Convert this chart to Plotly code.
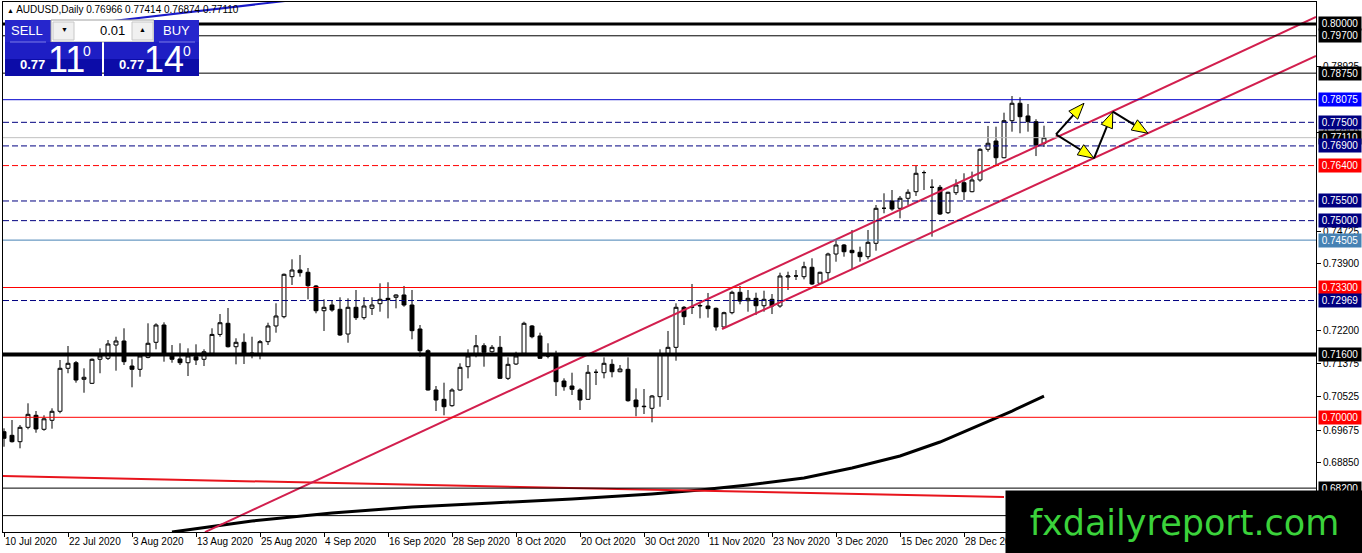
import math
import plotly.graph_objects as go

# ---------------- data ----------------
symbol = "AUDUSD,Daily"

opens = [0.69634, 0.69542, 0.69380, 0.69746, 0.70051, 0.69695, 0.69924, 0.70153, 0.71246, 0.71388,
         0.70966, 0.70864, 0.71475, 0.71500, 0.71838, 0.71940, 0.71304, 0.71220, 0.71525, 0.71907,
         0.72347, 0.71559, 0.71483, 0.71388, 0.71541, 0.71475, 0.71626, 0.72107, 0.72390, 0.71795,
         0.71907, 0.71584, 0.71584, 0.71923, 0.72322, 0.72558, 0.73576, 0.73745, 0.73687, 0.73339,
         0.72710, 0.72855, 0.72746, 0.72118, 0.72797, 0.72533, 0.72771, 0.72889, 0.73025, 0.73051,
         0.73110, 0.72855, 0.72245, 0.71693, 0.70694, 0.70457, 0.70295, 0.70694, 0.71287, 0.71609,
         0.71820, 0.71667, 0.71779, 0.70991, 0.71355, 0.71626, 0.72322, 0.72068, 0.71584, 0.71559,
         0.70923, 0.70796, 0.70694, 0.70457, 0.71144, 0.71134, 0.71347, 0.71159, 0.71220, 0.70440,
         0.70269, 0.70229, 0.70525, 0.71609, 0.71779, 0.72797, 0.72797, 0.72830, 0.72830, 0.72771,
         0.72297, 0.72660, 0.73178, 0.72965, 0.73025, 0.72837, 0.73000, 0.72830, 0.73567, 0.73593,
         0.73575, 0.73814, 0.73407, 0.73677, 0.74152, 0.74381, 0.74246, 0.74196, 0.74084, 0.74424,
         0.75314, 0.75500, 0.75314, 0.75568, 0.75736, 0.76222, 0.75848, 0.75847, 0.75202, 0.75711,
         0.75965, 0.75736, 0.76034, 0.76814, 0.77025, 0.76600, 0.77541, 0.77984, 0.77661, 0.77516,
         0.76966]

highs = [0.69720, 0.69931, 0.69804, 0.70356, 0.70160, 0.70051, 0.70229, 0.71457, 0.71813, 0.71432,
         0.71246, 0.71495, 0.71754, 0.71965, 0.72049, 0.72263, 0.71475, 0.71626, 0.72390, 0.72390,
         0.72415, 0.71838, 0.71882, 0.71754, 0.71856, 0.71729, 0.72263, 0.72626, 0.72779, 0.72009,
         0.72133, 0.72049, 0.71965, 0.72405, 0.72899, 0.73656, 0.74017, 0.74127, 0.73796, 0.73364,
         0.73000, 0.72965, 0.73051, 0.73025, 0.73237, 0.73051, 0.73051, 0.73407, 0.73433, 0.73127,
         0.73339, 0.73237, 0.72347, 0.71729, 0.70796, 0.70880, 0.70737, 0.71373, 0.71729, 0.72093,
         0.71882, 0.71838, 0.72068, 0.71525, 0.71667, 0.72431, 0.72347, 0.72151, 0.71882, 0.71693,
         0.70991, 0.71134, 0.70737, 0.71330, 0.71220, 0.71525, 0.71475, 0.71330, 0.71525, 0.70737,
         0.70720, 0.70567, 0.71729, 0.72195, 0.72899, 0.72830, 0.73390, 0.72940, 0.73161, 0.72792,
         0.72685, 0.73219, 0.73339, 0.73237, 0.73168, 0.73219, 0.73135, 0.73677, 0.73702, 0.73745,
         0.73956, 0.74043, 0.73702, 0.74185, 0.74508, 0.74406, 0.74762, 0.74338, 0.74762, 0.75398,
         0.75695, 0.75779, 0.75627, 0.75797, 0.76389, 0.76273, 0.76051, 0.75906, 0.75736, 0.76051,
         0.76204, 0.76247, 0.76839, 0.77407, 0.77389, 0.77745, 0.78169, 0.78136, 0.77966, 0.77579,
         0.77414]

lows = [0.69252, 0.69359, 0.69212, 0.69695, 0.69608, 0.69659, 0.69710, 0.70102, 0.71120, 0.70880,
        0.70625, 0.70846, 0.71120, 0.71457, 0.71185, 0.71330, 0.70763, 0.71032, 0.71500, 0.71729,
        0.71414, 0.71388, 0.71330, 0.71050, 0.71330, 0.71304, 0.71584, 0.72049, 0.71774, 0.71347,
        0.71355, 0.71500, 0.71475, 0.71838, 0.72151, 0.72517, 0.73364, 0.73576, 0.73000, 0.72644,
        0.72195, 0.72685, 0.72068, 0.71896, 0.72474, 0.72482, 0.72601, 0.72685, 0.72516, 0.72771,
        0.72812, 0.71984, 0.71541, 0.70681, 0.70160, 0.70051, 0.70269, 0.70676, 0.70991, 0.71525,
        0.71287, 0.71643, 0.70973, 0.70948, 0.71330, 0.71609, 0.72009, 0.71483, 0.71500, 0.70541,
        0.70676, 0.70567, 0.70186, 0.70452, 0.70821, 0.70991, 0.71017, 0.71144, 0.70397, 0.70025,
        0.70084, 0.69872, 0.70269, 0.70440, 0.71439, 0.72347, 0.72626, 0.72516, 0.72533, 0.72203,
        0.72271, 0.72619, 0.72873, 0.72685, 0.72601, 0.72685, 0.72626, 0.72787, 0.73237, 0.73491,
        0.73508, 0.73364, 0.73389, 0.73491, 0.73956, 0.74084, 0.73745, 0.73956, 0.74017, 0.74236,
        0.75187, 0.75253, 0.75060, 0.75398, 0.75627, 0.75779, 0.74592, 0.75143, 0.75169, 0.75652,
        0.75525, 0.75721, 0.75990, 0.76753, 0.76415, 0.76585, 0.77262, 0.77221, 0.77262, 0.76642,
        0.76874]

closes = [0.69466, 0.69380, 0.69746, 0.70076, 0.69703, 0.69962, 0.70153, 0.71246, 0.71373, 0.70948,
          0.71017, 0.71475, 0.71559, 0.71864, 0.71940, 0.71414, 0.71220, 0.71559, 0.71882, 0.72347,
          0.71626, 0.71475, 0.71388, 0.71559, 0.71457, 0.71667, 0.72107, 0.72405, 0.71795, 0.71907,
          0.71584, 0.71635, 0.71923, 0.72322, 0.72576, 0.73636, 0.73745, 0.73677, 0.73346, 0.72710,
          0.72797, 0.72728, 0.72093, 0.72797, 0.72533, 0.72830, 0.72855, 0.73000, 0.72990, 0.73110,
          0.72855, 0.72203, 0.71693, 0.70694, 0.70440, 0.70269, 0.70694, 0.71271, 0.71559, 0.71820,
          0.71652, 0.71779, 0.70991, 0.71347, 0.71559, 0.72390, 0.72049, 0.71500, 0.71559, 0.70905,
          0.70778, 0.70711, 0.70440, 0.71144, 0.71144, 0.71373, 0.71159, 0.71228, 0.70422, 0.70269,
          0.70279, 0.70542, 0.71609, 0.71779, 0.72797, 0.72558, 0.72805, 0.72843, 0.72762, 0.72297,
          0.72660, 0.73178, 0.72957, 0.73025, 0.72837, 0.73000, 0.72830, 0.73593, 0.73593, 0.73593,
          0.73829, 0.73389, 0.73687, 0.74152, 0.74381, 0.74210, 0.74185, 0.74084, 0.74449, 0.75314,
          0.75314, 0.75296, 0.75569, 0.75721, 0.76204, 0.76222, 0.75848, 0.75169, 0.75721, 0.75906,
          0.75736, 0.76034, 0.76814, 0.76967, 0.76600, 0.77541, 0.77984, 0.77643, 0.77516, 0.76924,
          0.77110]

bar_index = list(range(len(opens)))
spread = 0.00030
lot_size = "0.01"

tick_bars = [0, 8, 16, 24, 32, 40, 48, 56, 64, 72, 80, 88, 96, 104, 112, 120]
tick_labels = ["10 Jul 2020", "22 Jul 2020", "3 Aug 2020", "13 Aug 2020", "25 Aug 2020",
               "4 Sep 2020", "16 Sep 2020", "28 Sep 2020", "8 Oct 2020", "20 Oct 2020",
               "30 Oct 2020", "11 Nov 2020", "23 Nov 2020", "3 Dec 2020", "15 Dec 2020",
               "28 Dec 2020"]

price_ticks = [0.78925, 0.77250, 0.74725, 0.73900, 0.72200, 0.71375, 0.70525, 0.69675, 0.68850]

levels = [0.80000, 0.79700, 0.78750, 0.78075, 0.77500, 0.77110, 0.76900, 0.76400,
          0.75500, 0.75000, 0.74505, 0.73300, 0.72969, 0.71600, 0.70000, 0.68200, 0.67500]
level_kinds = ["thick3", "black", "black", "blue", "navy", "price", "navy", "reddash",
               "navy", "navy", "steel", "red", "navy", "thick4", "red", "black", "hidden"]

# moving average (read at selected bars)
ma_bars = [21, 31, 41, 51, 61, 71, 81, 87, 93, 100, 106, 112, 117, 122, 126, 130]
ma_values = [0.67083, 0.67363, 0.67567, 0.67719, 0.67821, 0.67923, 0.68050, 0.68151,
             0.68278, 0.68456, 0.68711, 0.69016, 0.69372, 0.69804, 0.70160, 0.70541]

# trend lines (bar index, price)
red_trend_x = [-0.5, 125.0]
red_trend_y = [0.68507, 0.67973]
channel_a_x = [25.125, 164.0]
channel_a_y = [0.67083, 0.80178]
channel_b_x = [89.75, 164.0]
channel_b_y = [0.72245, 0.79186]
blue_trend_x = [12.0, 40.0]
blue_trend_y = [0.80036, 0.80700]

# projection arrows (bar index, price)
arrow_x0 = [131.5, 131.5, 136.25, 138.6]
arrow_y0 = [0.77195, 0.77195, 0.76585, 0.77770]
arrow_x1 = [135.0, 136.25, 138.6, 143.0]
arrow_y1 = [0.77984, 0.76585, 0.77770, 0.77221]

# ---------------- layout geometry ----------------
W, H = 1362, 553
ML, MR, MT, MB = 3, 46, 2, 21
PW, PH = W - ML - MR, H - MT - MB
x_range = [-0.125, 164.0]
y_range = [0.67084, 0.80559]
FONT = "Liberation Sans"


def to_px(i, p):
    X = ML + (i - x_range[0]) / (x_range[1] - x_range[0]) * PW
    Y = MT + (y_range[1] - p) / (y_range[1] - y_range[0]) * PH
    return X, Y


def pp(X, Y):
    return (X - ML) / PW, (MT + PH - Y) / PH


fig = go.Figure()

fig.add_trace(go.Candlestick(
    x=bar_index, open=opens, high=highs, low=lows, close=closes,
    increasing=dict(line=dict(color="black", width=1), fillcolor="white"),
    decreasing=dict(line=dict(color="black", width=1), fillcolor="black"),
    whiskerwidth=0, showlegend=False, hoverinfo="skip"))

fig.add_trace(go.Scatter(x=ma_bars, y=ma_values, mode="lines",
                         line=dict(color="black", width=3), showlegend=False, hoverinfo="skip"))
fig.add_trace(go.Scatter(x=red_trend_x, y=red_trend_y, mode="lines",
                         line=dict(color="#e8141c", width=2), showlegend=False, hoverinfo="skip"))
for cx, cy in [(channel_a_x, channel_a_y), (channel_b_x, channel_b_y)]:
    fig.add_trace(go.Scatter(x=cx, y=cy, mode="lines",
                             line=dict(color="#d21f4e", width=2), showlegend=False, hoverinfo="skip"))
fig.add_trace(go.Scatter(x=blue_trend_x, y=blue_trend_y, mode="lines",
                         line=dict(color="#1a1ac8", width=2), showlegend=False, hoverinfo="skip"))

styles = {
    "thick3": ("black", 3, "solid", "black"),
    "thick4": ("black", 4, "solid", "black"),
    "black": ("black", 1, "solid", "black"),
    "blue": ("#0000cc", 1, "solid", "#0000ff"),
    "navy": ("#000080", 1, "6px,3px", "#000080"),
    "price": ("#c0c0c0", 1, "solid", "black"),
    "reddash": ("#ff0000", 1, "6px,3px", "#ff0000"),
    "red": ("#ff0000", 1, "solid", "#ff0000"),
    "steel": ("#4682b4", 1, "solid", "#4682b4"),
    "hidden": ("black", 1, "solid", None),
}

shapes = []
annotations = []

for lv, kind in zip(levels, level_kinds):
    color, width, dash, bg = styles[kind]
    shapes.append(dict(type="line", xref="paper", x0=0, x1=1, yref="y", y0=lv, y1=lv,
                       line=dict(color=color, width=width, dash=dash), layer="above"))
    if bg:
        annotations.append(dict(xref="paper", x=1, xanchor="left", xshift=2, yref="y", y=lv,
                                yanchor="middle", text=f"{lv:.5f}", showarrow=False,
                                font=dict(color="white", size=10, family=FONT),
                                bgcolor=bg, borderpad=1, width=40, height=11))

# arrows
HL, HW = 16, 6
for i0, p0, i1, p1 in zip(arrow_x0, arrow_y0, arrow_x1, arrow_y1):
    X0, Y0 = to_px(i0, p0)
    X1, Y1 = to_px(i1, p1)
    d = math.hypot(X1 - X0, Y1 - Y0)
    ux, uy = (X1 - X0) / d, (Y1 - Y0) / d
    bx, by = X1 - ux * HL, Y1 - uy * HL
    nx, ny = -uy, ux
    a = pp(X0, Y0)
    b = pp(bx, by)
    shapes.append(dict(type="line", xref="paper", yref="paper", x0=a[0], y0=a[1], x1=b[0], y1=b[1],
                       line=dict(color="black", width=2), layer="above"))
    t = pp(X1, Y1)
    l = pp(bx + nx * HW, by + ny * HW)
    r = pp(bx - nx * HW, by - ny * HW)
    shapes.append(dict(type="path", xref="paper", yref="paper",
                       path=f"M {t[0]},{t[1]} L {l[0]},{l[1]} L {r[0]},{r[1]} Z",
                       fillcolor="#ffff00", line=dict(color="black", width=1), layer="above"))


def rect(X0, Y0, X1, Y1, fill, line_color=None, lw=0):
    a = pp(X0, Y0)
    b = pp(X1, Y1)
    shapes.append(dict(type="rect", xref="paper", yref="paper", x0=a[0], y0=a[1], x1=b[0], y1=b[1],
                       fillcolor=fill, line=dict(color=line_color or fill, width=lw), layer="above"))


def label(X, Y, text, size, color="white", anchor="center", bold=False):
    x, y = pp(X, Y)
    if bold:
        text = f"<b>{text}</b>"
    annotations.append(dict(xref="paper", yref="paper", x=x, y=y, xanchor=anchor, yanchor="middle",
                            text=text, showarrow=False, font=dict(color=color, size=size, family=FONT)))


# one-click trading panel
rect(5, 20, 51, 42, "#2626cc")
rect(51, 20, 154, 42, "white", "#a0a0a0", 1)
rect(53, 22, 74, 40, "#f0f0f0", "#c8c8c8", 1)
rect(132, 22, 153, 40, "#f0f0f0", "#c8c8c8", 1)
rect(154, 20, 199, 42, "#2626cc")
rect(5, 42, 102, 59, "#1e1ec4")
rect(5, 59, 102, 76, "#0c0ca8")
rect(104, 42, 199, 59, "#1e1ec4")
rect(104, 59, 199, 76, "#0c0ca8")
for xa, xb in [(10, 46), (159, 195)]:
    a = pp(xa, 42)
    b = pp(xb, 42)
    shapes.append(dict(type="line", xref="paper", yref="paper", x0=a[0], y0=a[1], x1=b[0], y1=b[1],
                       line=dict(color="#7a7ae6", width=1), layer="above"))

label(27.5, 31, "SELL", 13)
label(176.5, 31, "BUY", 13)
label(127, 31, lot_size, 13, color="black", anchor="right")
label(64, 30, "▼", 7, color="black")
label(142, 30, "▲", 7, color="black")
bid = f"{closes[-1]:.5f}"
ask = f"{closes[-1] + spread:.5f}"
label(32, 65, bid[:4], 13, bold=True)
label(66, 60, bid[4:6], 36)
label(87, 51, bid[6], 14)
label(131, 65, ask[:4], 13, bold=True)
label(164, 60, ask[4:6], 36)
label(187, 51, ask[6], 14)

# title
tx, ty = pp(5, 10)
annotations.append(dict(xref="paper", yref="paper", x=tx, y=ty, xanchor="left", yanchor="middle",
                        showarrow=False, font=dict(color="black", size=10, family=FONT),
                        text=f"<span style='font-size:7px'>▲</span> {symbol} "
                             f"{opens[-1]:.5f} {highs[-1]:.5f} {lows[-1]:.5f} {closes[-1]:.5f}"))

# watermark
wx, wy = pp(1005, 490)
annotations.append(dict(xref="paper", yref="paper", x=wx, y=wy, xanchor="left", yanchor="top",
                        showarrow=False, text="fxdailyreport.com", bgcolor="black", borderpad=0,
                        width=357, height=63, align="center", valign="middle",
                        font=dict(color="#3bd23b", size=35, family="DejaVu Sans")))

fig.update_layout(
    width=W, height=H, margin=dict(l=ML, r=MR, t=MT, b=MB, pad=0, autoexpand=False),
    paper_bgcolor="white", plot_bgcolor="white", showlegend=False,
    shapes=shapes, annotations=annotations,
    xaxis=dict(range=x_range, tickvals=tick_bars, ticktext=tick_labels, tickangle=0,
               automargin=False,
               ticks="outside", ticklen=4, tickcolor="black", ticklabelposition="outside right",
               showline=True, linecolor="black", linewidth=1, mirror=True,
               showgrid=False, zeroline=False, rangeslider=dict(visible=False),
               tickfont=dict(size=10, color="black", family=FONT), fixedrange=True),
    yaxis=dict(range=y_range, side="right", tickvals=price_ticks, automargin=False,
               ticktext=[f"{v:.5f}" for v in price_ticks],
               ticks="outside", ticklen=4, tickcolor="black",
               showline=True, linecolor="black", linewidth=1, mirror=True,
               showgrid=False, zeroline=False,
               tickfont=dict(size=10, color="black", family=FONT), fixedrange=True),
)

fig.write_html("out.html", config={"displayModeBar": False},
               post_script="document.body.style.margin='0px';document.body.style.overflow='hidden';")
